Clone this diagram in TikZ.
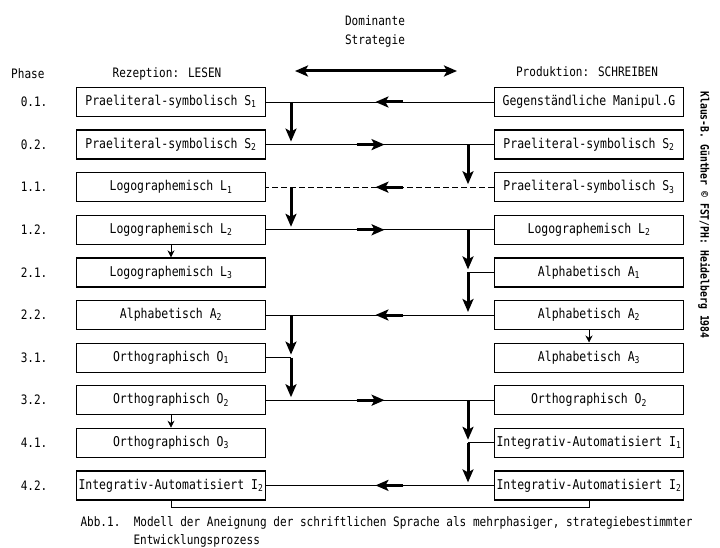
\documentclass[tikz,border=0pt]{standalone}
\usepackage{fontspec}
\setmainfont{DejaVu Sans Mono}[FakeStretch=0.85]
\usetikzlibrary{arrows.meta,positioning,decorations.markings}

\tikzset{
	box/.style={draw, line width=1.2pt, minimum width=189pt, minimum height=29pt, inner sep=1pt, font=\fontsize{13.5}{15}\selectfont},
	head/.style={font=\fontsize{13}{19}\selectfont},
	phase/.style={head, anchor=east},
	link/.style={-, line width=0.7pt},
	fat/.style={solid, line width=3pt, ->, shorten >=3pt},
	small/.style={link, -{Stealth[length=7pt,width=7pt]}},
	strat/.style={link, postaction={decorate}, decoration={markings, mark=at position 0.52 with {\draw[fat, shorten >=0pt] (-28pt,0) -- (0,0);}}},
}

\begin{document}
\begin{tikzpicture}[x=1pt, y=1pt, >={Stealth[length=13pt,width=11pt,inset=3pt]}, node distance=42.6pt]
			\useasboundingbox (0,0) rectangle (720,-548);

			% Rezeption: LESEN
			\node[box] (s1) at (171,-102) {Praeliteral-symbolisch S\textsubscript{1}};
			\node[box] (s2) [below of=s1] {Praeliteral-symbolisch S\textsubscript{2}};
			\node[box] (l1) [below of=s2] {Logographemisch L\textsubscript{1}};
			\node[box] (l2) [below of=l1] {Logographemisch L\textsubscript{2}};
			\node[box] (l3) [below of=l2] {Logographemisch L\textsubscript{3}};
			\node[box] (a2) [below of=l3] {Alphabetisch A\textsubscript{2}};
			\node[box] (o1) [below of=a2] {Orthographisch O\textsubscript{1}};
			\node[box] (o2) [below of=o1] {Orthographisch O\textsubscript{2}};
			\node[box] (o3) [below of=o2] {Orthographisch O\textsubscript{3}};
			\node[box] (i2) [below of=o3] {Integrativ-Automatisiert I\textsubscript{2}};

			% Produktion: SCHREIBEN
			\node[box] (g) at (589,-102) {Gegenständliche Manipul.G};
			\node[box] (s2r) [below of=g] {Praeliteral-symbolisch S\textsubscript{2}};
			\node[box] (s3r) [below of=s2r] {Praeliteral-symbolisch S\textsubscript{3}};
			\node[box] (l2r) [below of=s3r] {Logographemisch L\textsubscript{2}};
			\node[box] (a1r) [below of=l2r] {Alphabetisch A\textsubscript{1}};
			\node[box] (a2r) [below of=a1r] {Alphabetisch A\textsubscript{2}};
			\node[box] (a3r) [below of=a2r] {Alphabetisch A\textsubscript{3}};
			\node[box] (o2r) [below of=a3r] {Orthographisch O\textsubscript{2}};
			\node[box] (i1r) [below of=o2r] {Integrativ-Automatisiert I\textsubscript{1}};
			\node[box] (i2r) [below of=i1r] {Integrativ-Automatisiert I\textsubscript{2}};

			\foreach \n/\p in {s1/0.1., s2/0.2., l1/1.1., l2/1.2., l3/2.1., a2/2.2., o1/3.1., o2/3.2., o3/4.1., i2/4.2.}
				\node[phase, left=25pt of \n] (p\n) {\p};

			\node[phase] (ph) at (48,-74) {Phase};
			\node[head] (rez) at (167,-74) {Rezeption: LESEN};
			\node[head] (prod) at (587,-72) {Produktion: SCHREIBEN};
			\node[head, align=center] (dom) at (375,-31) {Dominante\\Strategie};
			\coordinate (dl) at (295,-71);
			\coordinate (dr) at (457,-71);
			\draw[fat, <->, shorten >=0pt] (dl) -- (dr);

			\coordinate (xl) at (291,0);
			\coordinate (xr) at (468,0);

			\path
				(g.west) edge[strat] (s1.east)
				(s2.east) edge[strat] (s2r.west)
				(s3r.west) edge[strat, dash pattern=on 6pt off 3pt] (l1.east)
				(l2.east) edge[strat] (l2r.west)
				(a2r.west) edge[strat] (a2.east)
				(o2.east) edge[strat] (o2r.west)
				(i2r.west) edge[strat] (i2.east)
			;

			\draw[fat] (s1.east -| xl) -- (s2.east -| xl);
			\draw[fat] (s2r.west -| xr) -- (s3r.west -| xr);
			\draw[fat] (l1.east -| xl) -- (l2.east -| xl);
			\draw[fat] (l2r.west -| xr) -- (a1r.west -| xr);
			\draw[fat] (a1r.west -| xr) -- (a2r.west -| xr);
			\draw[link] (a1r.west) -- (a1r.west -| xr);
			\draw[fat] (a2.east -| xl) -- (o1.east -| xl);
			\draw[fat] (o1.east -| xl) -- (o2.east -| xl);
			\draw[link] (o1.east) -- (o1.east -| xl);
			\draw[fat] (o2r.west -| xr) -- (i1r.west -| xr);
			\draw[fat] (i1r.west -| xr) -- (i2r.west -| xr);
			\draw[link] (i1r.west) -- (i1r.west -| xr);

			\draw[small] (l2) -- (l3);
			\draw[small] (o2) -- (o3);
			\draw[small] (a2r) -- (a3r);
			\draw[link] (i2.south) -- ++(0,-7) -| (i2r.south);

			\node[rotate=-90, font=\bfseries\fontsize{11.5}{13}\selectfont] (credit) at (704,-215) {Klaus-B. Günther \textcopyright\ FST/PH: Heidelberg 1984};

			\node[head, anchor=west] (cap1) at (77,-523) {Abb.1.\ \ Modell der Aneignung der schriftlichen Sprache als mehrphasiger, strategiebestimmter};
			\node[head, anchor=west] (cap2) at (130,-541) {Entwicklungsprozess};
		\end{tikzpicture}
\end{document}
